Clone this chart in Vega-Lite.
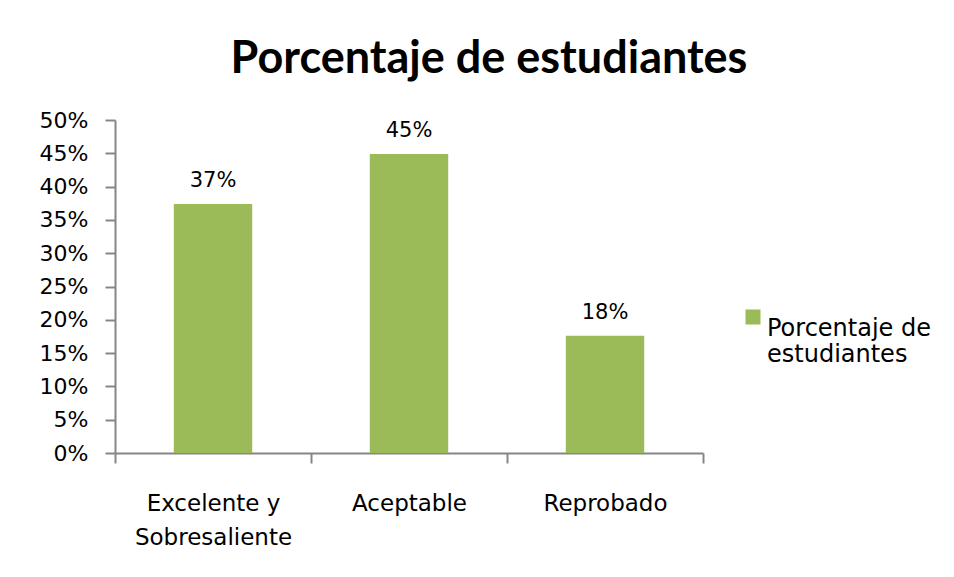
{
  "$schema": "https://vega.github.io/schema/vega-lite/v6.json",
  "autosize": {"type": "none"},
  "padding": {"left": 115, "top": 120, "right": 251, "bottom": 124},
  "width": 588,
  "height": 333,
  "background": "white",
  "config": {"view": {"stroke": null}, "font": "DejaVu Sans"},
  "title": {
    "text": "Porcentaje de estudiantes",
    "fontSize": 45,
    "fontWeight": "bold",
    "font": "Lato",
    "color": "black",
    "anchor": "middle",
    "frame": "group",
    "dx": 80,
    "offset": 27
  },
  "data": {
    "values": [
      {"categoria": "Excelente y Sobresaliente", "valor": 0.374, "serie": "Porcentaje de estudiantes"},
      {"categoria": "Aceptable", "valor": 0.449, "serie": "Porcentaje de estudiantes"},
      {"categoria": "Reprobado", "valor": 0.176, "serie": "Porcentaje de estudiantes"}
    ]
  },
  "encoding": {
    "x": {
      "field": "categoria",
      "type": "nominal",
      "sort": null,
      "scale": {"paddingInner": 0, "paddingOuter": 0},
      "axis": {
        "title": null,
        "labelAngle": 0,
        "labelFont": "DejaVu Sans",
        "labelFontSize": 23,
        "labelColor": "black",
        "labelPadding": 29,
        "labelLineHeight": 34,
        "labelExpr": "datum.label == 'Excelente y Sobresaliente' ? ['Excelente y', 'Sobresaliente'] : datum.label",
        "tickBand": "extent",
        "tickSize": 10,
        "tickWidth": 2,
        "tickColor": "#868686",
        "domainColor": "#868686",
        "domainWidth": 2,
        "labelBaseline": "top",
        "labelLimit": 400
      }
    },
    "y": {
      "field": "valor",
      "type": "quantitative",
      "scale": {"domain": [0, 0.5], "nice": false},
      "axis": {
        "title": null,
        "format": ".0%",
        "values": [0, 0.05, 0.1, 0.15, 0.2, 0.25, 0.3, 0.35, 0.4, 0.45, 0.5],
        "grid": false,
        "labelFont": "DejaVu Sans",
        "labelFontSize": 22,
        "labelColor": "black",
        "labelPadding": 17,
        "tickSize": 10,
        "tickWidth": 2,
        "tickColor": "#868686",
        "domainColor": "#868686",
        "domainWidth": 2
      }
    }
  },
  "layer": [
    {
      "mark": {"type": "bar", "color": "#9BBB59", "width": {"band": 0.4}},
      "encoding": {
        "color": {
          "field": "serie",
          "type": "nominal",
          "scale": {"range": ["#9BBB59"]},
          "legend": {
            "title": null,
            "orient": "none",
            "legendX": 626,
            "legendY": 185,
            "padding": 0,
            "symbolType": "square",
            "symbolSize": 225,
            "symbolStrokeWidth": 0,
            "symbolOpacity": 1,
            "labelFont": "DejaVu Sans",
            "labelFontSize": 24,
            "labelColor": "black",
            "labelLimit": 400,
            "labelOffset": 2,
            "labelBaseline": "top",
            "labelLineHeight": 30,
            "labelExpr": "['Porcentaje de', 'estudiantes']"
          }
        }
      }
    },
    {
      "mark": {"type": "text", "font": "DejaVu Sans", "fontSize": 21, "dy": -17, "baseline": "alphabetic", "color": "black"},
      "encoding": {
        "text": {"field": "valor", "type": "quantitative", "format": ".0%"}
      }
    }
  ]
}
